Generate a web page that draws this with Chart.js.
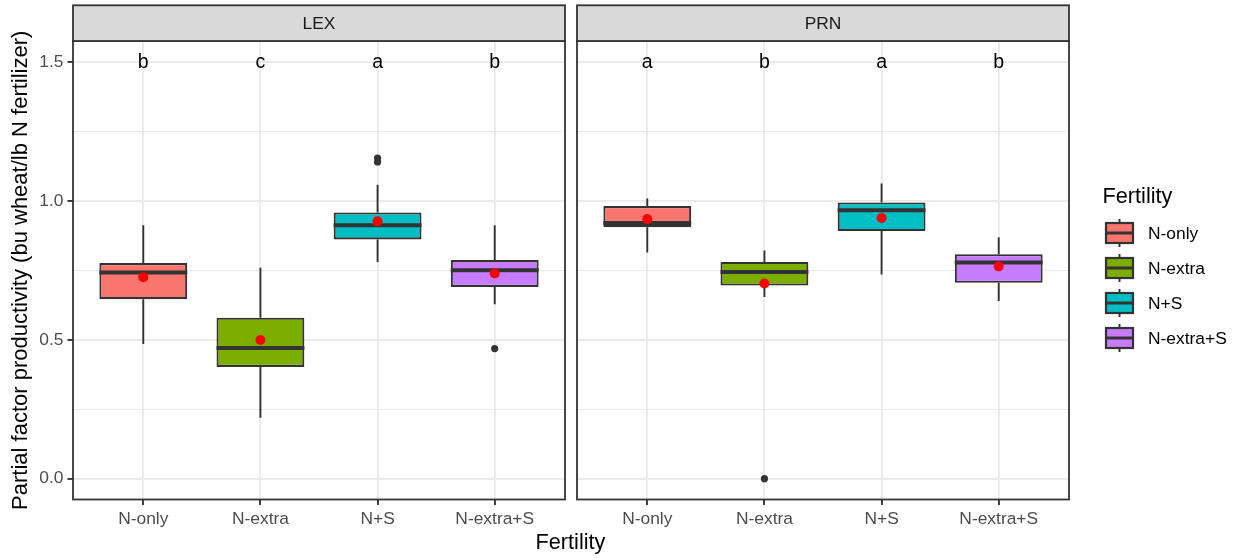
<!DOCTYPE html>
<html>
<head>
<meta charset="utf-8">
<script src="https://cdn.jsdelivr.net/npm/chart.js@4.4.1/dist/chart.umd.min.js"></script>
<style>
  html, body { margin: 0; padding: 0; background: #fff; }
  #wrap { position: relative; width: 1238px; height: 558px; overflow: hidden; }
  #lexChart { position: absolute; left: 0; top: 0; }
  #prnChart { position: absolute; left: 571px; top: 0; }
  #xTitle {
    position: absolute; left: 0; width: 1141px; top: 531px;
    text-align: center; font: 21.7px 'Liberation Sans', Arial, sans-serif;
    line-height: 22px; color: #000;
  }
</style>
</head>
<body>
<div id="wrap">
  <canvas id="lexChart" width="571" height="558"></canvas>
  <canvas id="prnChart" width="667" height="558"></canvas>
  <div id="xTitle">Fertility</div>
</div>
<script>
const categories = ['N-only', 'N-extra', 'N+S', 'N-extra+S'];
const fillColors = ['#F8766D', '#7CAE00', '#00BFC4', '#C77CFF'];
const yTicks = [0, 0.25, 0.5, 0.75, 1, 1.25, 1.5];
const letterY = 1.5;

// LEX panel
const lexLow = [0.485, 0.219, 0.780, 0.628];
const lexQ1 = [0.646, 0.402, 0.861, 0.690];
const lexMedian = [0.742, 0.470, 0.912, 0.750];
const lexQ3 = [0.776, 0.579, 0.958, 0.787];
const lexHigh = [0.912, 0.759, 1.058, 0.912];
const lexMean = [0.725, 0.499, 0.926, 0.738];
const lexOutlierCat = [3, 3, 4];
const lexOutlierVal = [1.154, 1.140, 0.468];
const lexLetters = ['b', 'c', 'a', 'b'];

// PRN panel
const prnLow = [0.814, 0.654, 0.735, 0.639];
const prnQ1 = [0.905, 0.695, 0.891, 0.705];
const prnMedian = [0.920, 0.744, 0.966, 0.778];
const prnQ3 = [0.981, 0.780, 0.994, 0.808];
const prnHigh = [1.008, 0.821, 1.062, 0.869];
const prnMean = [0.934, 0.702, 0.938, 0.764];
const prnOutlierCat = [2];
const prnOutlierVal = [0.0];
const prnLetters = ['a', 'b', 'a', 'b'];

const FONT = "'Liberation Sans', Arial, sans-serif";
const INK = '#333333';
const LEFT_OFFSET = 571;

function font(size) {
  return size + 'px ' + FONT;
}

function makeFacet(canvasId, name, s, isFirst) {
  const boxPlugin = {
    id: 'boxes_' + name,
    beforeDatasetsDraw(chart) {
      const ctx = chart.ctx, x = chart.scales.x, y = chart.scales.y;
      ctx.save();
      ctx.strokeStyle = INK;
      ctx.lineWidth = 1.9;
      categories.forEach((c, i) => {
        const px = x.getPixelForValue(i + 1);
        ctx.beginPath();
        ctx.moveTo(px, y.getPixelForValue(s.low[i]));
        ctx.lineTo(px, y.getPixelForValue(s.q1[i]));
        ctx.moveTo(px, y.getPixelForValue(s.q3[i]));
        ctx.lineTo(px, y.getPixelForValue(s.high[i]));
        ctx.stroke();
      });
      ctx.restore();
    },
    afterDatasetDraw(chart, args) {
      if (args.index !== 0) return;
      const ctx = chart.ctx, y = chart.scales.y;
      const meta = chart.getDatasetMeta(0);
      ctx.save();
      ctx.strokeStyle = INK;
      ctx.lineWidth = 4;
      meta.data.forEach((bar, i) => {
        const py = y.getPixelForValue(s.median[i]);
        ctx.beginPath();
        ctx.moveTo(bar.x - bar.width / 2, py);
        ctx.lineTo(bar.x + bar.width / 2, py);
        ctx.stroke();
      });
      ctx.restore();
    },
    afterDatasetsDraw(chart) {
      const ctx = chart.ctx, x = chart.scales.x, y = chart.scales.y;
      ctx.save();
      ctx.fillStyle = '#000';
      ctx.font = font(19.5);
      ctx.textAlign = 'center';
      ctx.textBaseline = 'middle';
      s.letters.forEach((l, i) => {
        ctx.fillText(l, x.getPixelForValue(i + 1), y.getPixelForValue(letterY) + 1);
      });
      ctx.restore();
    },
    afterDraw(chart) {
      const ctx = chart.ctx, a = chart.chartArea;
      ctx.save();
      // panel border
      ctx.strokeStyle = INK;
      ctx.lineWidth = 1.8;
      ctx.strokeRect(a.left, a.top, a.right - a.left, a.bottom - a.top);
      // strip
      const stripTop = 5.3;
      ctx.fillStyle = '#D9D9D9';
      ctx.fillRect(a.left, stripTop, a.right - a.left, a.top - stripTop);
      ctx.strokeRect(a.left, stripTop, a.right - a.left, a.top - stripTop);
      ctx.fillStyle = '#1A1A1A';
      ctx.font = font(17.4);
      ctx.textAlign = 'center';
      ctx.textBaseline = 'middle';
      ctx.fillText(name, (a.left + a.right) / 2, (stripTop + a.top) / 2 + 1);

      if (!isFirst) {
        // legend
        const ox = -LEFT_OFFSET;
        ctx.fillStyle = '#000';
        ctx.textAlign = 'left';
        ctx.textBaseline = 'alphabetic';
        ctx.font = font(21.7);
        ctx.fillText('Fertility', 1102.5 + ox, 203);
        ctx.font = font(17.4);
        categories.forEach((c, i) => {
          const cy = 233 + 35 * i;
          const kx0 = 1106 + ox, kx1 = 1133 + ox, kc = (kx0 + kx1) / 2;
          ctx.strokeStyle = INK;
          ctx.lineWidth = 1.9;
          ctx.beginPath();
          ctx.moveTo(kc, cy - 14); ctx.lineTo(kc, cy - 10);
          ctx.moveTo(kc, cy + 10); ctx.lineTo(kc, cy + 14);
          ctx.stroke();
          ctx.fillStyle = fillColors[i];
          ctx.fillRect(kx0, cy - 10, kx1 - kx0, 20);
          ctx.lineWidth = 2.2;
          ctx.strokeRect(kx0, cy - 10, kx1 - kx0, 20);
          ctx.lineWidth = 3;
          ctx.beginPath();
          ctx.moveTo(kx0, cy); ctx.lineTo(kx1, cy);
          ctx.stroke();
          ctx.fillStyle = '#000';
          ctx.textBaseline = 'middle';
          ctx.fillText(c, 1148 + ox, cy + 1);
        });
      }
      ctx.restore();
    }
  };

  const isMajor = v => Math.abs(v * 2 - Math.round(v * 2)) < 1e-6;

  return new Chart(document.getElementById(canvasId), {
    type: 'bar',
    data: {
      datasets: [
        {
          type: 'bar',
          data: categories.map((c, i) => ({ x: i + 1, y: [s.q1[i], s.q3[i]] })),
          backgroundColor: fillColors,
          borderColor: INK,
          borderWidth: 2.1,
          borderSkipped: false,
          barPercentage: 0.75,
          categoryPercentage: 1,
          order: 3
        },
        {
          type: 'scatter',
          data: s.outCat.map((c, i) => ({ x: c, y: s.outVal[i] })),
          pointRadius: 3.6,
          pointBackgroundColor: INK,
          pointBorderWidth: 0,
          order: 2
        },
        {
          type: 'scatter',
          data: s.mean.map((m, i) => ({ x: i + 1, y: m })),
          pointRadius: 5,
          pointBackgroundColor: '#FF0000',
          pointBorderWidth: 0,
          order: 1
        }
      ]
    },
    options: {
      responsive: false,
      animation: false,
      events: [],
      layout: {
        padding: isFirst ? { top: 41, right: 6, left: 0, bottom: 0 }
                         : { top: 41, right: 169, left: 6, bottom: 0 }
      },
      plugins: { legend: { display: false }, tooltip: { enabled: false } },
      scales: {
        x: {
          type: 'linear',
          min: 0.4,
          max: 4.6,
          offset: false,
          afterBuildTicks: axis => { axis.ticks = categories.map((c, i) => ({ value: i + 1 })); },
          afterFit: axis => { axis.height = 58.5; },
          border: { display: false },
          grid: {
            color: '#EBEBEB',
            lineWidth: 1.9,
            tickColor: INK,
            tickWidth: 1.9,
            tickLength: 5.5,
            offset: false
          },
          ticks: {
            autoSkip: false,
            maxRotation: 0,
            padding: 4,
            color: '#4D4D4D',
            font: { family: FONT, size: 17.4 },
            callback: v => categories[Math.round(v) - 1]
          }
        },
        y: {
          type: 'linear',
          min: -0.075,
          max: 1.575,
          afterBuildTicks: axis => { axis.ticks = yTicks.map(v => ({ value: v })); },
          afterFit: axis => { axis.width = isFirst ? 73 : 0; },
          border: { display: false },
          grid: {
            color: '#EBEBEB',
            lineWidth: ctx => isMajor(ctx.tick.value) ? 1.9 : 1,
            drawTicks: isFirst,
            tickColor: ctx => isMajor(ctx.tick.value) ? INK : 'rgba(0,0,0,0)',
            tickWidth: 1.9,
            tickLength: 5.5
          },
          ticks: {
            display: isFirst,
            padding: 4,
            color: '#4D4D4D',
            font: { family: FONT, size: 17.4 },
            callback: v => isMajor(v) ? v.toFixed(1) : ''
          },
          title: {
            display: isFirst,
            text: 'Partial factor productivity (bu wheat/lb N fertilizer)',
            color: '#000',
            font: { family: FONT, size: 22 },
            padding: { top: 8, bottom: 4 }
          }
        }
      }
    },
    plugins: [boxPlugin]
  });
}

makeFacet('lexChart', 'LEX', {
  low: lexLow, q1: lexQ1, median: lexMedian, q3: lexQ3, high: lexHigh,
  mean: lexMean, outCat: lexOutlierCat, outVal: lexOutlierVal, letters: lexLetters
}, true);

makeFacet('prnChart', 'PRN', {
  low: prnLow, q1: prnQ1, median: prnMedian, q3: prnQ3, high: prnHigh,
  mean: prnMean, outCat: prnOutlierCat, outVal: prnOutlierVal, letters: prnLetters
}, false);
</script>
</body>
</html>
